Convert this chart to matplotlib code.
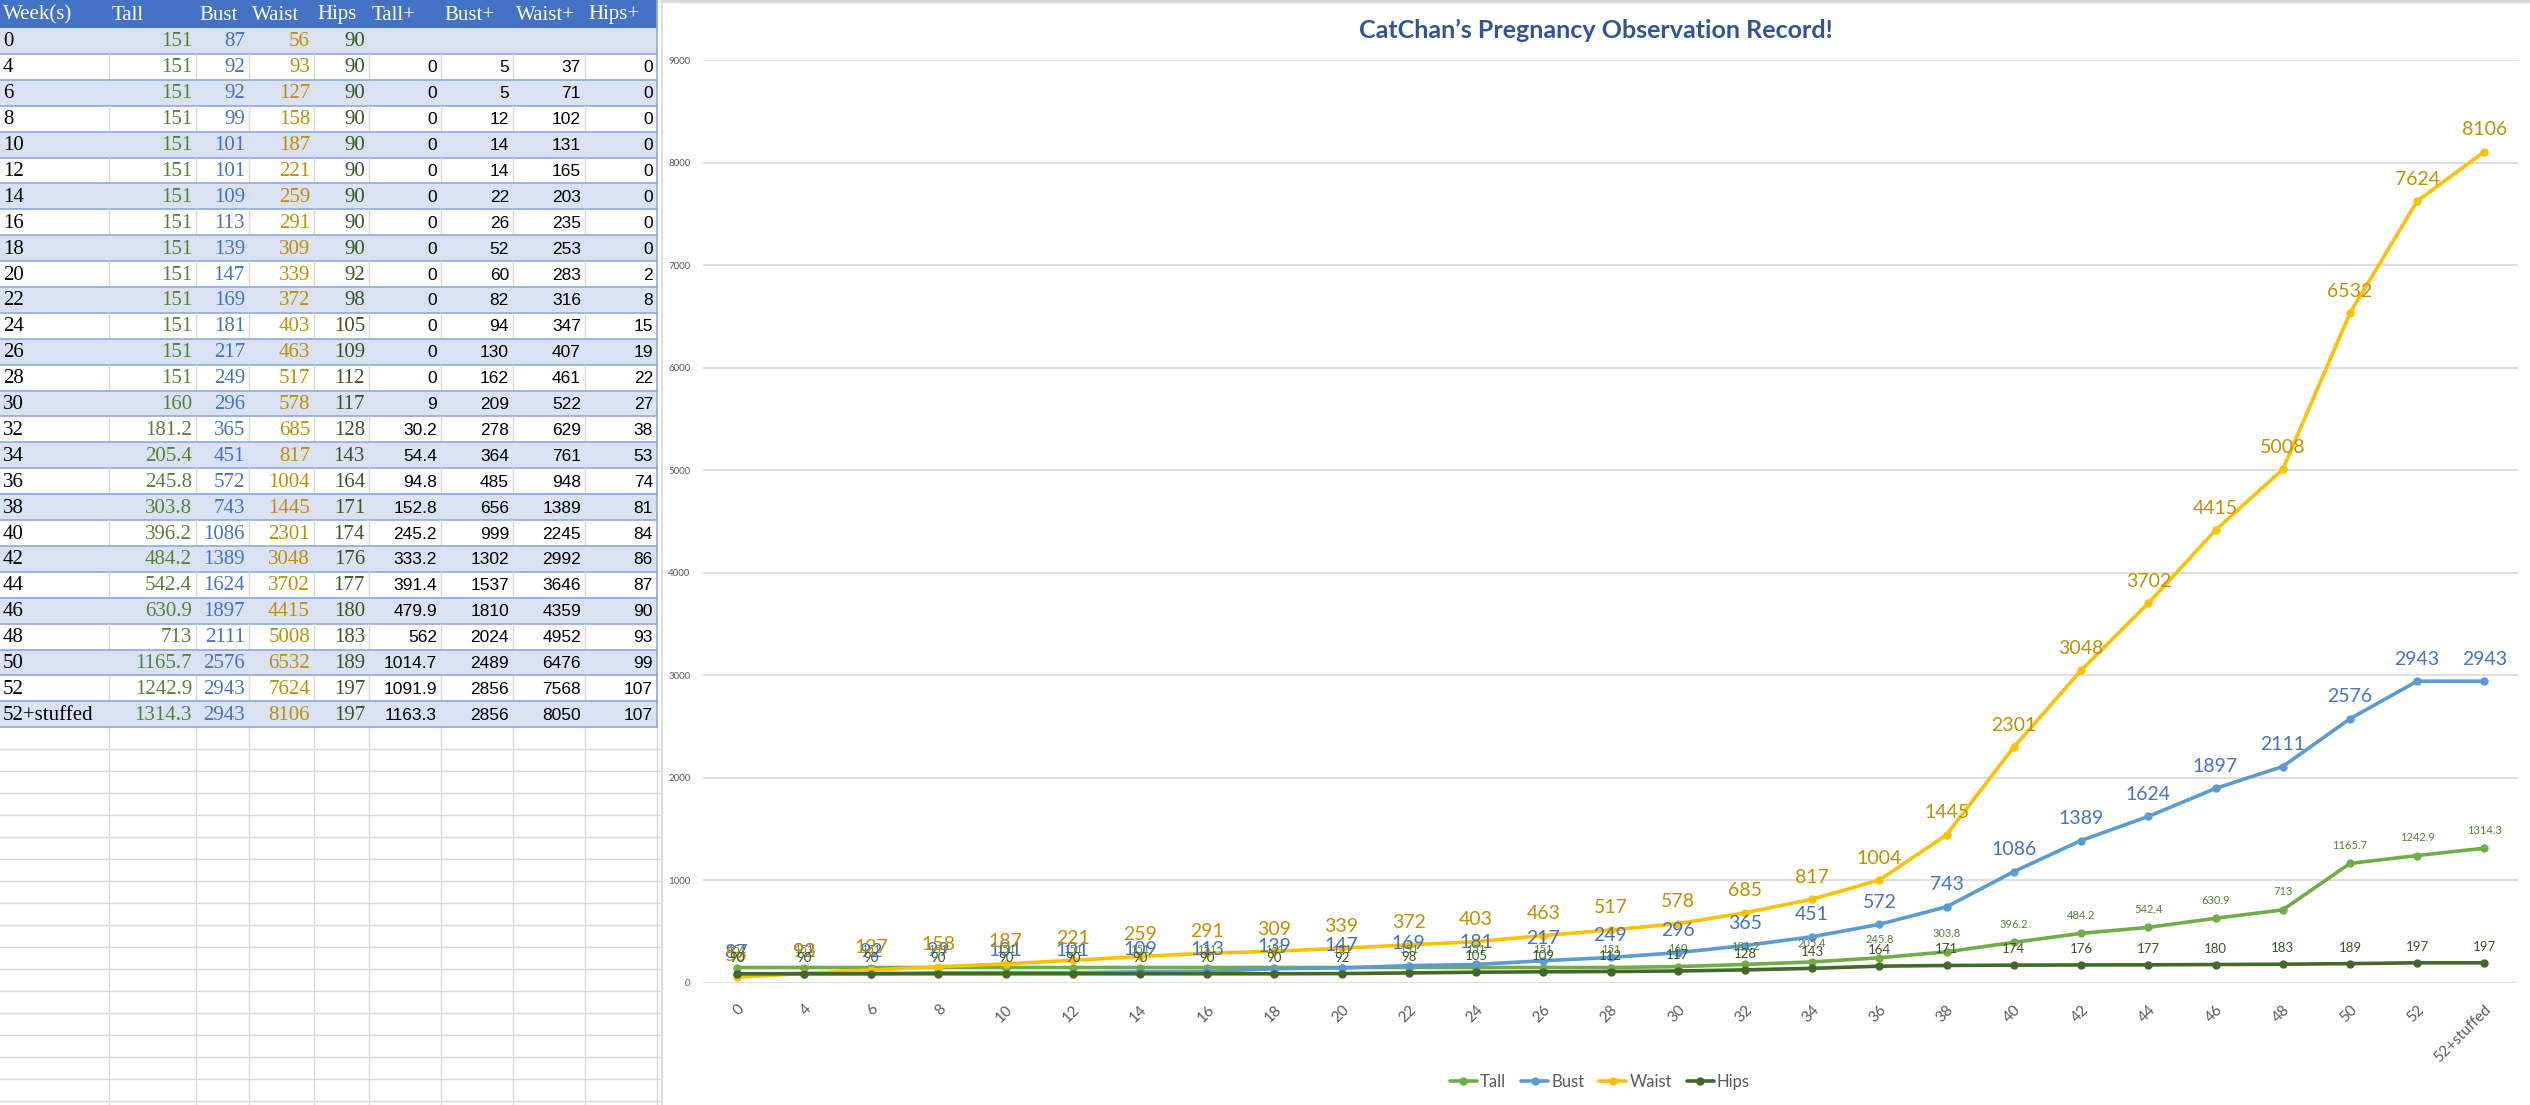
import matplotlib.pyplot as plt
from matplotlib.patches import Rectangle

weeks = ["0", "4", "6", "8", "10", "12", "14", "16", "18", "20", "22", "24", "26", "28",
         "30", "32", "34", "36", "38", "40", "42", "44", "46", "48", "50", "52", "52+stuffed"]
tall = [151, 151, 151, 151, 151, 151, 151, 151, 151, 151, 151, 151, 151, 151,
        160, 181.2, 205.4, 245.8, 303.8, 396.2, 484.2, 542.4, 630.9, 713, 1165.7, 1242.9, 1314.3]
bust = [87, 92, 92, 99, 101, 101, 109, 113, 139, 147, 169, 181, 217, 249,
        296, 365, 451, 572, 743, 1086, 1389, 1624, 1897, 2111, 2576, 2943, 2943]
waist = [56, 93, 127, 158, 187, 221, 259, 291, 309, 339, 372, 403, 463, 517,
         578, 685, 817, 1004, 1445, 2301, 3048, 3702, 4415, 5008, 6532, 7624, 8106]
hips = [90, 90, 90, 90, 90, 90, 90, 90, 90, 92, 98, 105, 109, 112,
        117, 128, 143, 164, 171, 174, 176, 177, 180, 183, 189, 197, 197]
tall_plus = [None, 0, 0, 0, 0, 0, 0, 0, 0, 0, 0, 0, 0, 0,
             9, 30.2, 54.4, 94.8, 152.8, 245.2, 333.2, 391.4, 479.9, 562, 1014.7, 1091.9, 1163.3]
bust_plus = [None, 5, 5, 12, 14, 14, 22, 26, 52, 60, 82, 94, 130, 162,
             209, 278, 364, 485, 656, 999, 1302, 1537, 1810, 2024, 2489, 2856, 2856]
waist_plus = [None, 37, 71, 102, 131, 165, 203, 235, 253, 283, 316, 347, 407, 461,
              522, 629, 761, 948, 1389, 2245, 2992, 3646, 4359, 4952, 6476, 7568, 8050]
hips_plus = [None, 0, 0, 0, 0, 0, 0, 0, 0, 2, 8, 15, 19, 22,
             27, 38, 53, 74, 81, 84, 86, 87, 90, 93, 99, 107, 107]
headers = ["Week(s)", "Tall", "Bust", "Waist", "Hips", "Tall+", "Bust+", "Waist+", "Hips+"]

W, H = 2530, 1105
fig = plt.figure(figsize=(W / 100, H / 100), dpi=100)
fig.patch.set_facecolor("white")

# ---- spreadsheet part (drawn in pixel coordinates) ----
bg = fig.add_axes([0, 0, 1, 1])
bg.set_xlim(0, W)
bg.set_ylim(H, 0)
bg.axis("off")

edges = [0, 109, 196, 249, 314, 369, 441, 513, 585, 657]
head_h = 28
row_h = 25.9
table_bottom = head_h + row_h * len(weeks)
serif = "Liberation Serif"

# empty sheet cells below the table
y = table_bottom
while y < H:
    y += 22
    bg.plot([0, 660], [y, y], color="#D9D9D9", lw=1)
for x in edges[1:]:
    bg.plot([x, x], [table_bottom, H], color="#D9D9D9", lw=1)

bg.add_patch(Rectangle((0, 0), edges[-1], head_h, color="#4472C4", lw=0))
for j, h in enumerate(headers):
    bg.text(edges[j] + 3, head_h / 2 + 1, h, color="white", fontsize=15,
            family=serif, ha="left", va="center")

serif_cols = [tall, bust, waist, hips]
serif_colors = ["#548235", "#4472C4", "#BF8F00", "#375623"]
plus_cols = [tall_plus, bust_plus, waist_plus, hips_plus]

for i, wk in enumerate(weeks):
    top = head_h + i * row_h
    if i % 2 == 0:
        bg.add_patch(Rectangle((0, top), edges[-1], row_h, color="#D9E1F2", lw=0))
    else:
        for x in edges[1:-1]:
            bg.plot([x, x], [top, top + row_h], color="#D9D9D9", lw=1)
    bg.plot([0, edges[-1]], [top + row_h, top + row_h], color="#8EA9DB", lw=1.2)
    cy = top + row_h / 2 + 1
    bg.text(3, cy, wk, color="black", fontsize=15, family=serif,
            ha="left", va="center")
    for j, (col, c) in enumerate(zip(serif_cols, serif_colors)):
        bg.text(edges[j + 2] - 4, cy, f"{col[i]:g}", color=c, fontsize=15,
                family=serif, ha="right", va="center")
    for j, col in enumerate(plus_cols):
        if col[i] is None:
            continue
        bg.text(edges[j + 6] - 4, cy, f"{col[i]:g}", color="black", fontsize=12.5,
                family="Liberation Sans", ha="right", va="center")

bg.plot([edges[-1], edges[-1]], [0, table_bottom], color="#8EA9DB", lw=1.2)
bg.plot([662, 662], [0, H], color="#D9D9D9", lw=1.2)
bg.plot([662, W], [1, 1], color="#D9D9D9", lw=3)

# ---- chart part ----
ax = fig.add_axes([703 / W, 122 / H, 1815 / W, 923 / H])
x = range(len(weeks))
series = [
    ("Tall", tall, "#70AD47", "#548235", 8, 18),
    ("Bust", bust, "#5B9BD5", "#4472C4", 14, 22),
    ("Waist", waist, "#FFC000", "#BF9000", 14, 22),
    ("Hips", hips, "#43682B", "#375623", 9.5, 16),
]
for name, vals, c, lc, fs, off in series:
    ax.plot(x, vals, color=c, lw=2.6, marker="o", markersize=5, label=name,
            solid_capstyle="round")
for name, vals, c, lc, fs, off in series:
    for xi, v in zip(x, vals):
        ax.annotate(f"{v:g}", (xi, v), xytext=(0, off), textcoords="offset pixels",
                    ha="center", va="center", fontsize=fs, color=lc, family="Lato")

ax.set_xlim(-0.5, len(weeks) - 0.5)
ax.set_ylim(0, 9000)
ax.set_yticks(range(0, 9001, 1000))
ax.set_xticks(list(x))
ax.set_xticklabels(weeks, rotation=45, ha="right", rotation_mode="anchor",
                   fontsize=11, color="#595959", family="Lato")
for lab in ax.get_yticklabels():
    lab.set_fontsize(7)
    lab.set_color("#595959")
    lab.set_family("Lato")
ax.tick_params(axis="both", length=0)
ax.tick_params(axis="x", pad=14)
ax.tick_params(axis="y", pad=9)
ax.yaxis.grid(True, color="#D9D9D9", lw=1.2)
ax.set_axisbelow(True)
for s in ax.spines.values():
    s.set_visible(False)

fig.text(1596 / W, 1 - 30 / H, "CatChan\u2019s Pregnancy Observation Record!",
         ha="center", va="center", fontsize=18, fontweight="bold",
         color="#2F5597", family="Lato")

leg = fig.legend(loc="center", bbox_to_anchor=(1600 / W, 1 - 1082 / H), ncol=4,
                 frameon=False, handlelength=1.6, columnspacing=0.9,
                 handletextpad=0.2, prop={"family": "Lato", "size": 12})
for t in leg.get_texts():
    t.set_color("#595959")

fig.savefig("out.png", dpi=100, facecolor="white")
